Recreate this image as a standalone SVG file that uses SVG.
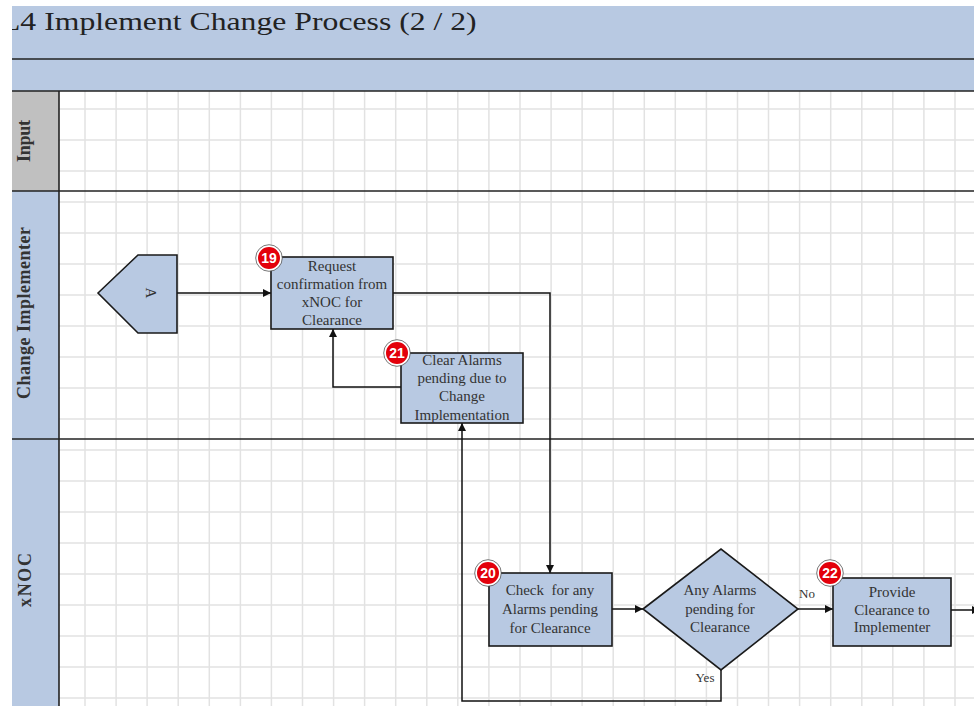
<svg xmlns="http://www.w3.org/2000/svg" width="974" height="706" viewBox="0 0 974 706">
  <style>
    .band { fill: #b8c9e2; }
    .grid { fill: none; stroke: #e2e2e2; stroke-width: 1.5; }
    .lane { fill: none; stroke: #222; stroke-width: 1.6; }
    .box { fill: #b8c9e2; stroke: #1a1a1a; stroke-width: 1.6; }
    .txt { font-family: "Liberation Serif", "Times New Roman", serif; font-size: 15px; fill: #333; text-anchor: middle; }
    .lbl { font-family: "Liberation Serif", "Times New Roman", serif; font-size: 13px; fill: #333; text-anchor: middle; }
    .lanelbl { font-family: "Liberation Serif", "Times New Roman", serif; font-size: 18px; font-weight: bold; fill: #333; text-anchor: middle; }
    .badge circle { fill: #e3000b; stroke: #fff; stroke-width: 2; }
    .badge .ring { fill: none; stroke: #555; stroke-width: 0.8; }
    .badge text { font-family: "Liberation Sans", Arial, sans-serif; font-size: 14px; font-weight: bold; fill: #fff; text-anchor: middle; }
    .conn { fill: none; stroke: #111; stroke-width: 1.5; }
  </style>
  <defs>
    <marker id="arrow" viewBox="0 0 10 10" refX="10" refY="5" markerWidth="8" markerHeight="8" markerUnits="userSpaceOnUse" orient="auto">
      <path d="M0,0 L10,5 L0,10 Z" fill="#111"/>
    </marker>
    <clipPath id="titleClip">
      <rect x="12" y="0" width="962" height="60"/>
    </clipPath>
  </defs>

  <rect width="974" height="706" fill="#fff"/>

  <!-- header bands -->
  <rect class="band" x="12" y="6" width="962" height="85"/>
  <line class="lane" x1="12" y1="59" x2="974" y2="59"/>
  <g clip-path="url(#titleClip)">
    <text transform="translate(1,30) scale(1.22,1)" font-family="'Liberation Serif', 'Times New Roman', serif" font-size="26" fill="#222">L4 Implement Change Process (2 / 2)</text>
  </g>

  <!-- lane label column -->
  <rect x="12" y="91" width="47" height="100" fill="#c0c0c0"/>
  <rect class="band" x="12" y="191" width="47" height="248"/>
  <rect class="band" x="12" y="439" width="47" height="267"/>
  <text class="lanelbl" transform="translate(30,141) rotate(-90)" textLength="42">Input</text>
  <text class="lanelbl" transform="translate(30,313) rotate(-90)" textLength="172">Change Implementer</text>
  <text class="lanelbl" transform="translate(31,580) rotate(-90)" textLength="54">xNOC</text>

  <!-- grid -->
  <path class="grid" d="M85 91V706M116.1 91V706M147.1 91V706M178.2 91V706M209.3 91V706M240.4 91V706M271.4 91V706M302.5 91V706M333.6 91V706M364.6 91V706M395.7 91V706M426.8 91V706M457.8 91V706M488.9 91V706M520 91V706M551.1 91V706M582.1 91V706M613.2 91V706M644.3 91V706M675.3 91V706M706.4 91V706M737.5 91V706M768.5 91V706M799.6 91V706M830.7 91V706M861.8 91V706M892.8 91V706M923.9 91V706M955 91V706"/>
  <path class="grid" d="M59 109H974M59 140H974M59 171H974M59 202H974M59 233H974M59 264H974M59 295H974M59 326H974M59 357H974M59 388H974M59 419H974M59 450H974M59 481H974M59 512H974M59 543H974M59 574H974M59 605H974M59 636H974M59 667H974M59 698H974"/>

  <!-- lane borders -->
  <line class="lane" x1="12" y1="91" x2="974" y2="91"/>
  <line class="lane" x1="12" y1="191" x2="974" y2="191"/>
  <line class="lane" x1="12" y1="439" x2="974" y2="439"/>
  <line class="lane" x1="59" y1="91" x2="59" y2="706"/>

  <!-- connectors -->
  <g id="connectors">
    <path class="conn" d="M177 293H271" marker-end="url(#arrow)"/>
    <path class="conn" d="M393 293H550V573" marker-end="url(#arrow)"/>
    <path class="conn" d="M401 387H333V329" marker-end="url(#arrow)"/>
    <path class="conn" d="M721 670V701H462V423" marker-end="url(#arrow)"/>
    <path class="conn" d="M612 609H643" marker-end="url(#arrow)"/>
    <path class="conn" d="M798 609H833" marker-end="url(#arrow)"/>
    <path class="conn" d="M951 610H980" marker-end="url(#arrow)"/>
    <text class="lbl" x="807" y="598">No</text>
    <text class="lbl" x="705" y="682">Yes</text>
  </g>

  <!-- off-page connector A -->
  <g id="node-A">
    <path class="box" d="M98 293L138 255H177V333H138Z"/>
    <text class="txt" transform="translate(146,293) rotate(90)" font-size="15">A</text>
  </g>

  <!-- step 19 -->
  <g id="node-19">
    <rect class="box" x="271" y="257" width="122" height="72"/>
    <text class="txt" x="332" y="271">Request</text>
    <text class="txt" x="332" y="289">confirmation from</text>
    <text class="txt" x="332" y="307">xNOC for</text>
    <text class="txt" x="332" y="325">Clearance</text>
    <g class="badge">
      <circle cx="269" cy="258" r="12"/>
      <circle class="ring" cx="269" cy="258" r="13.3"/>
      <text x="269" y="263">19</text>
    </g>
  </g>

  <!-- step 21 -->
  <g id="node-21">
    <rect class="box" x="401" y="353" width="122" height="70"/>
    <text class="txt" x="462" y="365">Clear Alarms</text>
    <text class="txt" x="462" y="383">pending due to</text>
    <text class="txt" x="462" y="401">Change</text>
    <text class="txt" x="462" y="420">Implementation</text>
    <g class="badge">
      <circle cx="397" cy="353" r="12"/>
      <circle class="ring" cx="397" cy="353" r="13.3"/>
      <text x="397" y="358">21</text>
    </g>
  </g>

  <!-- step 20 -->
  <g id="node-20">
    <rect class="box" x="489" y="573" width="123" height="73"/>
    <text class="txt" x="550" y="595" xml:space="preserve">Check  for any</text>
    <text class="txt" x="550" y="614">Alarms pending</text>
    <text class="txt" x="550" y="633">for Clearance</text>
    <g class="badge">
      <circle cx="488" cy="573" r="12"/>
      <circle class="ring" cx="488" cy="573" r="13.3"/>
      <text x="488" y="578">20</text>
    </g>
  </g>

  <!-- decision -->
  <g id="node-decision">
    <path class="box" d="M643 609L721 549L798 609L721 670Z"/>
    <text class="txt" x="720" y="595">Any Alarms</text>
    <text class="txt" x="720" y="614">pending for</text>
    <text class="txt" x="720" y="632">Clearance</text>
  </g>

  <!-- step 22 -->
  <g id="node-22">
    <rect class="box" x="833" y="578" width="118" height="68"/>
    <text class="txt" x="892" y="597">Provide</text>
    <text class="txt" x="892" y="615">Clearance to</text>
    <text class="txt" x="892" y="632">Implementer</text>
    <g class="badge">
      <circle cx="830" cy="573" r="12"/>
      <circle class="ring" cx="830" cy="573" r="13.3"/>
      <text x="830" y="578">22</text>
    </g>
  </g>
</svg>
